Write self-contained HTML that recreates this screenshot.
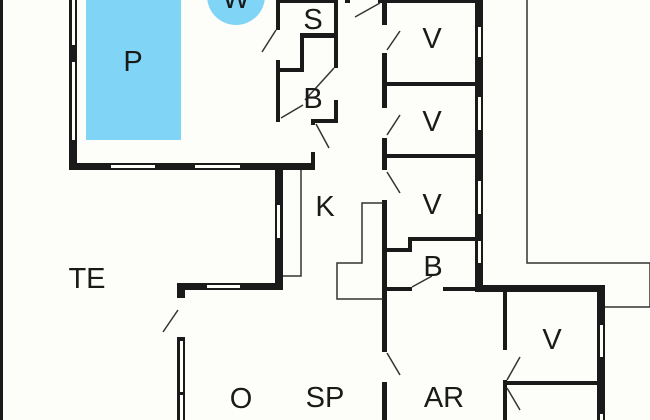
<!DOCTYPE html>
<html><head><style>
html,body{margin:0;padding:0;background:#fdfdf9;}
svg{display:block;}
text{font-family:"Liberation Sans",sans-serif;font-size:29px;fill:#1a1a1a;text-anchor:middle;}
</style></head><body>
<svg width="650" height="420" viewBox="0 0 650 420" xmlns="http://www.w3.org/2000/svg">
<rect width="650" height="420" fill="#fdfdf9"/>
<!-- pool & whirlpool -->
<rect x="86" y="0" width="95" height="140" fill="#80d4f6"/>
<circle cx="236" cy="-4" r="29" fill="#80d4f6"/>
<g fill="#1a1a1a">
<!-- outer left line -->
<rect x="0" y="0" width="3" height="420"/>
<!-- pool area walls -->
<rect x="69" y="0" width="8" height="170"/>
<rect x="69" y="163" width="214" height="7"/>
<rect x="275" y="163" width="8" height="127"/>
<rect x="177" y="283" width="106" height="7"/>
<rect x="177" y="283" width="8" height="15"/>
<rect x="280" y="163" width="34" height="7"/>
<rect x="311" y="152" width="4" height="18"/>
<!-- S/B closet -->
<rect x="276" y="0" width="62" height="3"/>
<rect x="276" y="0" width="4" height="30"/>
<rect x="276" y="60" width="4" height="62"/>
<rect x="300" y="33" width="38" height="5"/>
<rect x="300" y="33" width="4" height="39"/>
<rect x="276" y="68" width="28" height="4"/>
<rect x="334" y="0" width="4" height="68"/>
<rect x="334" y="100" width="4" height="23"/>
<rect x="311" y="119" width="27" height="4"/>
<rect x="311" y="119" width="4" height="6"/>
<!-- corridor top -->
<rect x="345" y="0" width="5" height="3"/>
<rect x="378" y="0" width="100" height="3"/>
<!-- corridor right wall -->
<rect x="382" y="0" width="5" height="25"/>
<rect x="382" y="53" width="5" height="55"/>
<rect x="382" y="138" width="5" height="32"/>
<rect x="382" y="200" width="5" height="152"/>
<rect x="382" y="382" width="5" height="38"/>
<!-- V rooms right wall -->
<rect x="475" y="0" width="8" height="292"/>
<rect x="387" y="82" width="88" height="4"/>
<rect x="387" y="154" width="88" height="4"/>
<rect x="408" y="237" width="69" height="4"/>
<rect x="408" y="237" width="4" height="15"/>
<rect x="387" y="248" width="25" height="4"/>
<rect x="387" y="287" width="25" height="4"/>
<rect x="443" y="287" width="36" height="4"/>
<!-- bottom right block -->
<rect x="477" y="285" width="128" height="7"/>
<rect x="597" y="285" width="8" height="135"/>
<rect x="503" y="292" width="4" height="58"/>
<rect x="503" y="380" width="4" height="40"/>
<rect x="503" y="381" width="97" height="4"/>
<!-- left lower wall -->
<rect x="177" y="337" width="8" height="83"/>
</g>
<!-- windows (white insets) -->
<g fill="#fdfdf9">
<rect x="72" y="0" width="3" height="45"/>
<rect x="72" y="62" width="3" height="78"/>
<rect x="111" y="165" width="44" height="3"/>
<rect x="195" y="165" width="45" height="3"/>
<rect x="277" y="205" width="3" height="33"/>
<rect x="207" y="285" width="33" height="3"/>
<rect x="478" y="27" width="3" height="30"/>
<rect x="478" y="97" width="3" height="33"/>
<rect x="478" y="181" width="3" height="33"/>
<rect x="478" y="241" width="3" height="22"/>
<rect x="600" y="325" width="3" height="32"/>
<rect x="600" y="414" width="3" height="6"/>
<rect x="180" y="341" width="3" height="51"/>
<rect x="180" y="395" width="3" height="25"/>
</g>
<!-- thin lines -->
<g stroke="#333" stroke-width="1.5" fill="none">
<polyline points="527,0 527,263 650,263 650,307 605,307"/>
<polyline points="301,170 301,276 283,276"/>
<polyline points="383,203 362,203 362,263 337,263 337,299 383,299"/>
<!-- door swings -->
<line x1="262" y1="52" x2="276" y2="30"/>
<line x1="281" y1="118" x2="303" y2="105"/>
<line x1="305" y1="100" x2="334" y2="68"/>
<line x1="316" y1="124" x2="329" y2="148"/>
<line x1="355" y1="17" x2="380" y2="3"/>
<line x1="387" y1="50" x2="400" y2="31"/>
<line x1="387" y1="135" x2="400" y2="115"/>
<line x1="387" y1="172" x2="400" y2="193"/>
<line x1="412" y1="287" x2="432" y2="276"/>
<line x1="387" y1="353" x2="400" y2="375"/>
<line x1="507" y1="380" x2="520" y2="357"/>
<line x1="507" y1="388" x2="520" y2="410"/>
<line x1="163" y1="332" x2="178" y2="310"/>
</g>
<!-- labels -->
<text x="236" y="8">W</text>
<text x="133" y="71">P</text>
<text x="313" y="29">S</text>
<text x="313" y="108">B</text>
<text x="325" y="216">K</text>
<text x="87" y="288">TE</text>
<text x="432" y="48">V</text>
<text x="432" y="131">V</text>
<text x="432" y="214">V</text>
<text x="433" y="276">B</text>
<text x="552" y="349">V</text>
<text x="241" y="408">O</text>
<text x="325" y="407">SP</text>
<text x="444" y="407">AR</text>
</svg>
</body></html>
